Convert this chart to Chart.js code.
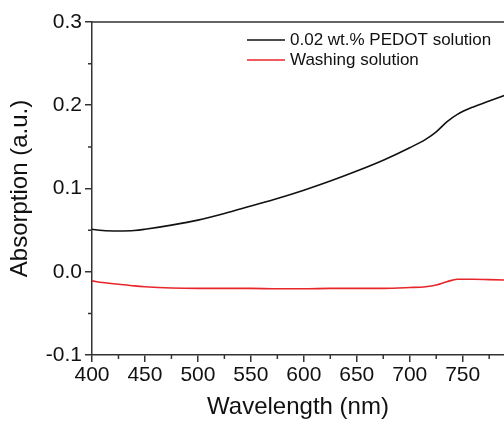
<!DOCTYPE html>
<html>
<head>
<meta charset="utf-8">
<script src="https://cdn.jsdelivr.net/npm/chart.js@4.4.1/dist/chart.umd.min.js"></script>
<style>
  html, body { margin: 0; padding: 0; background: #fff; }
  #wrap { width: 504px; height: 426px; }
</style>
</head>
<body>
<div id="wrap"><canvas id="absChart" width="504" height="426"></canvas></div>
<script>
const wavelengths = [400, 410, 425, 440, 450, 475, 500, 525, 550, 575, 600, 625, 650, 675, 700, 715, 725, 735, 745, 760, 775, 790];
const pedot = [0.051, 0.0495, 0.049, 0.0495, 0.051, 0.056, 0.062, 0.070, 0.079, 0.088, 0.098, 0.109, 0.121, 0.134, 0.149, 0.159, 0.168, 0.180, 0.189, 0.198, 0.205, 0.212];
const washing = [-0.011, -0.013, -0.015, -0.017, -0.018, -0.0195, -0.020, -0.020, -0.020, -0.0205, -0.0205, -0.020, -0.020, -0.020, -0.019, -0.018, -0.016, -0.012, -0.009, -0.009, -0.0095, -0.010];
const xTicks = [400, 450, 500, 550, 600, 650, 700, 750];
const yTicks = [-0.1, 0.0, 0.1, 0.2, 0.3];

const font = 'Liberation Sans, Arial, sans-serif';
const axisColor = '#333';

const toPoints = (ys) => wavelengths.map((x, i) => ({ x, y: ys[i] }));

// minor ticks, top border and the legend box
const decorations = {
  id: 'decorations',
  afterDraw(chart) {
    const { ctx, chartArea: a, scales: { x, y } } = chart;
    ctx.save();
    ctx.strokeStyle = axisColor;
    ctx.lineWidth = 1.5;
    ctx.beginPath();
    for (let v = 425; v <= 790; v += 50) {
      const px = x.getPixelForValue(v);
      ctx.moveTo(px, a.bottom); ctx.lineTo(px, a.bottom + 4);
    }
    for (let v = -0.05; v <= 0.3; v += 0.1) {
      const py = y.getPixelForValue(v);
      ctx.moveTo(a.left, py); ctx.lineTo(a.left - 4, py);
    }
    ctx.moveTo(a.left, a.top); ctx.lineTo(a.right, a.top);
    ctx.stroke();

    ctx.font = `17px ${font}`;
    ctx.textBaseline = 'middle';
    chart.data.datasets.forEach((ds, i) => {
      const ly = 40 + i * 20;
      ctx.strokeStyle = ds.borderColor;
      ctx.lineWidth = 1.5;
      ctx.beginPath(); ctx.moveTo(247, ly); ctx.lineTo(285, ly); ctx.stroke();
      ctx.fillStyle = '#111';
      ctx.fillText(ds.label, 290, ly);
    });
    ctx.restore();
  },
};

new Chart(document.getElementById('absChart'), {
  type: 'line',
  data: {
    datasets: [
      { label: '0.02 wt.% PEDOT solution', data: toPoints(pedot), borderColor: '#111', borderWidth: 1.6, pointRadius: 0, cubicInterpolationMode: 'monotone' },
      { label: 'Washing solution', data: toPoints(washing), borderColor: '#e8262a', borderWidth: 1.6, pointRadius: 0, cubicInterpolationMode: 'monotone' },
    ],
  },
  options: {
    responsive: false,
    animation: false,
    layout: { padding: { top: 22, right: 0, left: 0, bottom: 0 } },
    plugins: { legend: { display: false }, tooltip: { enabled: false } },
    scales: {
      x: {
        type: 'linear', min: 400, max: 789,
        afterBuildTicks: (s) => { s.ticks = xTicks.map((value) => ({ value })); },
        afterFit: (s) => { s.height = 71; },
        grid: { drawOnChartArea: false, color: axisColor, tickLength: 7, lineWidth: 1.5 },
        border: { color: axisColor, width: 1.5 },
        ticks: { color: '#111', font: { family: font, size: 21 }, padding: 1, maxRotation: 0 },
        title: { display: true, text: 'Wavelength (nm)', color: '#111', font: { family: font, size: 24 }, padding: { top: 4 } },
      },
      y: {
        min: -0.1, max: 0.3,
        afterBuildTicks: (s) => { s.ticks = yTicks.map((value) => ({ value })); },
        afterFit: (s) => { s.width = 92; },
        grid: { drawOnChartArea: false, color: axisColor, tickLength: 7, lineWidth: 1.5 },
        border: { color: axisColor, width: 1.5 },
        ticks: { color: '#111', font: { family: font, size: 21 }, padding: 3, callback: (v) => v.toFixed(1) },
        title: { display: true, text: 'Absorption (a.u.)', color: '#111', font: { family: font, size: 24 }, padding: { top: 6, bottom: 0 } },
      },
    },
  },
  plugins: [decorations],
});
</script>
</body>
</html>
